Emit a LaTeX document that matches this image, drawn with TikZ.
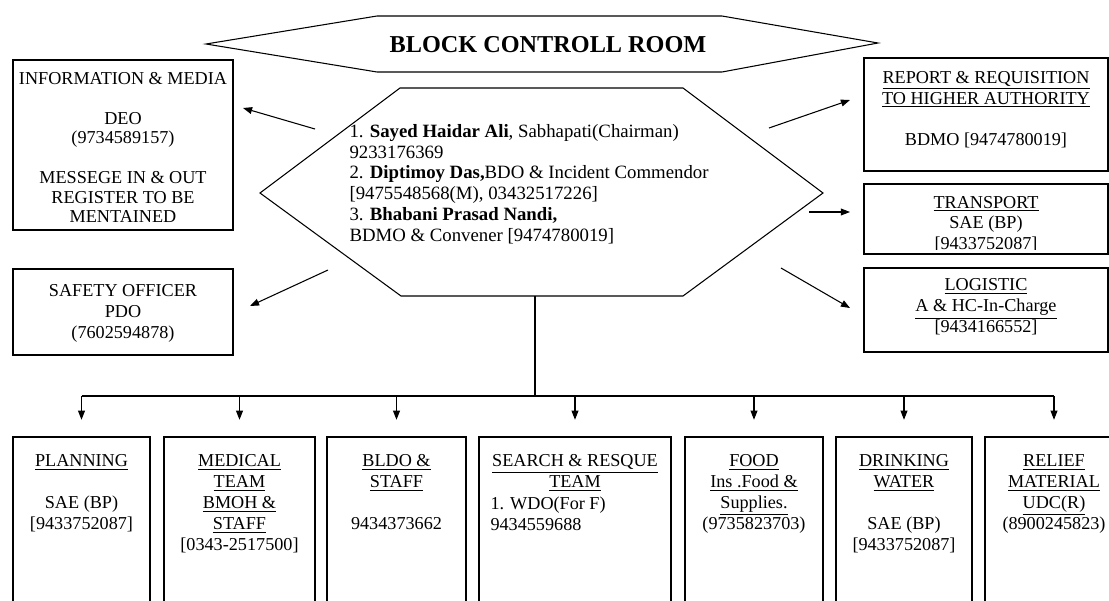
\documentclass[tikz,border=0pt]{standalone}
\usepackage{fontspec}
\setmainfont{Liberation Serif}
\usetikzlibrary{positioning,fit,arrows.meta}

\begin{document}
\begin{tikzpicture}[x=0.66pt,y=-0.66pt,line width=0.7pt,
    box/.style={draw,inner sep=0pt},
    txt/.style={font=\fontsize{12}{13.8}\selectfont,align=center,inner sep=0pt,anchor=north},
    arr/.style={-{Triangle[length=6pt,width=4.5pt]}}]
    \useasboundingbox (0,0) rectangle (1109,601);
    \clip (0,0) rectangle (1109,601);

    \draw (206,44) -- (377,16) -- (722,16) -- (878,43) -- (722,72) -- (377,72) -- cycle;
    \node (title) at (548,45) [font=\fontsize{16}{19}\selectfont\bfseries] {BLOCK CONTROLL ROOM};

    \draw (260,193) -- (400,88) -- (683,88) -- (823,193) -- (683,296) -- (401,296) -- cycle;
    \node (chair) at (349,122) [txt,anchor=north west,align=left,font=\fontsize{12.4}{13.8}\selectfont] {\strut 1. \textbf{Sayed Haidar Ali}, Sabhapati(Chairman)\\ 9233176369\\ 2. \textbf{Diptimoy Das,}BDO \& Incident Commendor\\ {[}9475548568(M), 03432517226]\\ 3. \textbf{Bhabani Prasad Nandi,}\\ BDMO \& Convener [9474780019]};

    \node (info) [box,fit={(13,60) (233,230)}] {};
    \node (infotxt) [txt,below=7.3pt of info.north,font=\fontsize{12}{13}\selectfont] {\strut INFORMATION \& MEDIA\\ ~\\ DEO\\ (9734589157)\\ ~\\ MESSEGE IN \& OUT\\ REGISTER TO BE\\ MENTAINED};
    \node (safe) [box,fit={(13,269) (233,355)}] {};
    \node (safetxt) [txt,below=8.8pt of safe.north] {\strut SAFETY OFFICER\\ PDO\\ (7602594878)};

    \node (report) [box,fit={(864,58) (1108,171)}] {};
    \node (reporttxt) [txt,below=6.9pt of report.north] {\strut\underline{REPORT \& REQUISITION}\\ \underline{TO HIGHER AUTHORITY}\\ ~\\ BDMO [9474780019]};
    \node (trans) [box,fit={(864,184) (1108,254)}] {};
    \begin{scope}
        \clip (864,184) rectangle (1108,249);
        \node (transtxt) [txt,below=6.2pt of trans.north] {\strut\underline{TRANSPORT}\\ SAE (BP)\\ {[}9433752087]};
    \end{scope}
    \node (logi) [box,fit={(864,268) (1108,352)}] {};
    \node (logitxt) [txt,below=5.5pt of logi.north] {\strut\underline{LOGISTIC}\\ \underline{A \& HC-In-Charge}\\ {[}9434166552]};

    \coordinate (a1) at (315,129); \coordinate (b1) at (243,108);
    \coordinate (a2) at (328,270); \coordinate (b2) at (250,306);
    \coordinate (a3) at (769,128); \coordinate (b3) at (850,100);
    \coordinate (a4) at (809,212); \coordinate (b4) at (850,212);
    \coordinate (a5) at (781,268); \coordinate (b5) at (850,308);
    \foreach \s/\t in {a1/b1,a2/b2,a3/b3,a4/b4,a5/b5}
        \draw[arr] (\s) -- (\t);

    \node (plan) [box,fit={(13,437) (150,620)}] {};
    \node (med) [box,fit={(164,437) (315,620)}] {};
    \node (bldo) [box,fit={(327,437) (466,620)}] {};
    \node (search) [box,fit={(479,437) (671,620)}] {};
    \node (food) [box,fit={(685,437) (823,620)}] {};
    \node (water) [box,fit={(836,437) (972,620)}] {};
    \node (relief) [box,fit={(985,437) (1123,620)}] {};

    \node (plantxt) [txt,below=10pt of plan.north] {\strut\underline{PLANNING}\\ ~\\ SAE (BP)\\ {[}9433752087]};
    \node (medtxt) [txt,below=10pt of med.north] {\strut\underline{MEDICAL}\\ \underline{TEAM}\\ \underline{BMOH \&}\\ \underline{STAFF}\\ {[}0343-2517500]};
    \node (bldotxt) [txt,below=10pt of bldo.north] {\strut\underline{BLDO \&}\\ \underline{STAFF}\\ ~\\ 9434373662};
    \node (searchtxt) [txt,below=10pt of search.north] {\strut\underline{SEARCH \& RESQUE}\\ \underline{TEAM}};
    \node (searchsub) at (490,494) [txt,anchor=north west,align=left] {\strut 1. WDO(For F)\\ 9434559688};
    \node (foodtxt) [txt,below=10pt of food.north] {\strut\underline{FOOD}\\ \underline{Ins .Food \&}\\ \underline{Supplies.}\\ (9735823703)};
    \node (watertxt) [txt,below=10pt of water.north] {\strut\underline{DRINKING}\\ \underline{WATER}\\ ~\\ SAE (BP)\\ {[}9433752087]};
    \node (relieftxt) [txt,below=10pt of relief.north] {\strut\underline{RELIEF}\\ \underline{MATERIAL}\\ \underline{UDC(R)}\\ (8900245823)};

    \coordinate (hexbot) at (535,296);
    \coordinate (bus) at (535,396);
    \draw (hexbot) -- (bus);
    \draw (bus -| plan.north) -- (bus -| relief.north);
    \foreach \b in {plan,med,bldo,search,food,water,relief}
        \draw[arr,shorten >=11pt] (bus -| \b.north) -- (\b.north);
\end{tikzpicture}
\end{document}
